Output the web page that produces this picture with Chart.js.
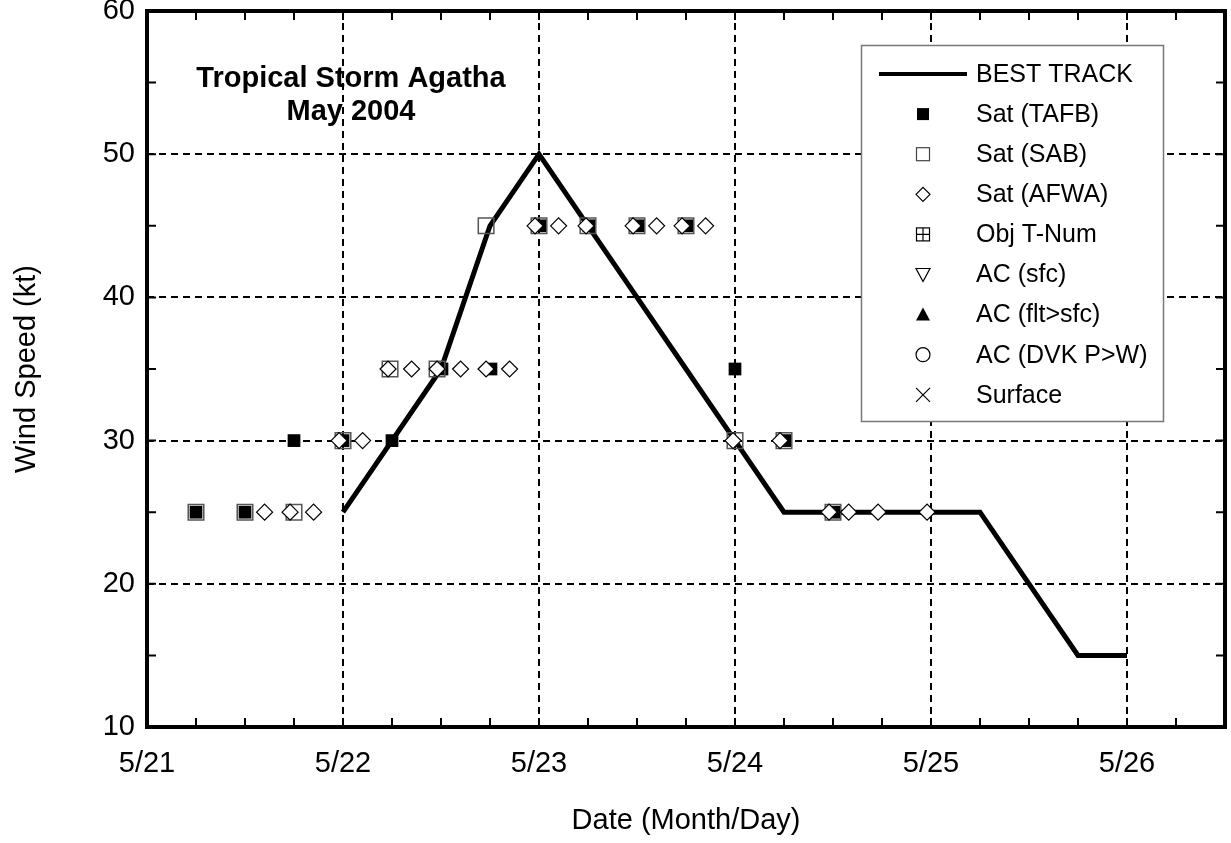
<!DOCTYPE html>
<html>
<head>
<meta charset="utf-8">
<script src="https://cdn.jsdelivr.net/npm/chart.js@4.4.1/dist/chart.umd.min.js"></script>
<style>
  html, body { margin: 0; padding: 0; background: #ffffff; }
  #wrap { width: 1231px; height: 843px; }
</style>
</head>
<body>
<div id="wrap"><canvas id="c" width="1231" height="843"></canvas></div>
<script>
// ---- data (day of May 2004, wind speed in kt) ----
const bestTrackDays = [22, 22.25, 22.5, 22.75, 23, 23.25, 23.5, 23.75, 24, 24.25, 24.5, 24.75, 25, 25.25, 25.5, 25.75, 26];
const bestTrackKt   = [25, 30, 35, 45, 50, 45, 40, 35, 30, 25, 25, 25, 25, 25, 20, 15, 15];

const tafbDays = [21.25, 21.5, 21.75, 22.0, 22.25, 22.505, 22.755, 23.005, 23.255, 23.505, 23.755, 24.0, 24.255, 24.505];
const tafbKt   = [25, 25, 30, 30, 30, 35, 35, 45, 45, 45, 45, 35, 30, 25];

const sabDays = [21.25, 21.5, 21.75, 22.0, 22.24, 22.48, 22.73, 23.0, 23.25, 23.5, 23.75, 24.0, 24.25, 24.5];
const sabKt   = [25, 25, 25, 30, 35, 35, 45, 45, 45, 45, 45, 30, 30, 25];

const afwaDays = [21.60, 21.73, 21.85, 21.98, 22.10, 22.23, 22.35, 22.48, 22.60, 22.73, 22.85, 22.98, 23.10, 23.24, 23.48, 23.60, 23.73, 23.85, 23.99, 24.23, 24.48, 24.58, 24.73, 24.98];
const afwaKt   = [25, 25, 25, 30, 30, 35, 35, 35, 35, 35, 35, 45, 45, 45, 45, 45, 45, 45, 30, 30, 25, 25, 25, 25];

const xTickValues = [21, 22, 23, 24, 25, 26];
const xTickLabels = ['5/21', '5/22', '5/23', '5/24', '5/25', '5/26'];
const yTickValues = [10, 20, 30, 40, 50, 60];

const legendLabels = ['BEST TRACK', 'Sat (TAFB)', 'Sat (SAB)', 'Sat (AFWA)', 'Obj T-Num', 'AC (sfc)', 'AC (flt>sfc)', 'AC (DVK P>W)', 'Surface'];
const titleLines = ['Tropical Storm Agatha', 'May 2004'];

const FONT = "'Liberation Sans', Arial, Helvetica, sans-serif";

function pts(xs, ys) { return xs.map((x, i) => ({ x: x, y: ys[i] })); }

const framePlugin = {
  id: 'framePlugin',
  afterDatasetsDraw(chart) {
    const ctx = chart.ctx;
    const a = chart.chartArea;
    const xs = chart.scales.x, ys = chart.scales.y;
    ctx.save();
    // inner title
    ctx.fillStyle = '#000';
    ctx.font = "bold 29px " + FONT;
    ctx.textAlign = 'center';
    ctx.textBaseline = 'alphabetic';
    ctx.fillText(titleLines[0], 351, 87);
    ctx.fillText(titleLines[1], 351, 120);

    // legend box
    const L = 861, T = 45, R = 1163, B = 421;
    ctx.fillStyle = '#fff';
    ctx.fillRect(L, T, R - L, B - T);
    ctx.strokeStyle = '#777';
    ctx.lineWidth = 1.5;
    ctx.strokeRect(L + 0.5, T + 0.5, R - L, B - T);
    const mx = 923, tx = 976;
    ctx.font = "25px " + FONT;
    ctx.textAlign = 'left';
    ctx.textBaseline = 'middle';
    legendLabels.forEach((lab, i) => {
      const cy = 74 + i * 40.1;
      ctx.fillStyle = '#000';
      ctx.fillText(lab, tx, cy + 1);
      ctx.strokeStyle = '#000';
      ctx.lineWidth = 1.2;
      ctx.beginPath();
      switch (i) {
        case 0:
          ctx.lineWidth = 4;
          ctx.moveTo(879, cy); ctx.lineTo(967, cy); ctx.stroke();
          break;
        case 1:
          ctx.fillRect(mx - 6, cy - 6, 12, 12);
          break;
        case 2:
          ctx.strokeStyle = '#444';
          ctx.strokeRect(mx - 6.5, cy - 6.5, 13, 13);
          break;
        case 3:
          ctx.moveTo(mx - 7, cy); ctx.lineTo(mx, cy - 7); ctx.lineTo(mx + 7, cy); ctx.lineTo(mx, cy + 7); ctx.closePath(); ctx.stroke();
          break;
        case 4:
          ctx.strokeRect(mx - 6.5, cy - 6.5, 13, 13);
          ctx.moveTo(mx, cy - 6.5); ctx.lineTo(mx, cy + 6.5);
          ctx.moveTo(mx - 6.5, cy); ctx.lineTo(mx + 6.5, cy); ctx.stroke();
          break;
        case 5:
          ctx.moveTo(mx - 7, cy - 6); ctx.lineTo(mx + 7, cy - 6); ctx.lineTo(mx, cy + 7); ctx.closePath(); ctx.stroke();
          break;
        case 6:
          ctx.moveTo(mx - 7, cy + 6); ctx.lineTo(mx + 7, cy + 6); ctx.lineTo(mx, cy - 7); ctx.closePath(); ctx.fill();
          break;
        case 7:
          ctx.arc(mx, cy, 7, 0, Math.PI * 2); ctx.stroke();
          break;
        case 8:
          ctx.moveTo(mx - 7, cy - 7); ctx.lineTo(mx + 7, cy + 7);
          ctx.moveTo(mx + 7, cy - 7); ctx.lineTo(mx - 7, cy + 7); ctx.stroke();
          break;
      }
    });

    // inward tick marks
    ctx.strokeStyle = '#000';
    ctx.lineWidth = 2;
    ctx.beginPath();
    for (let d = 21.25; d < 26.5; d += 0.25) {
      const px = xs.getPixelForValue(d);
      ctx.moveTo(px, a.bottom); ctx.lineTo(px, a.bottom - 9);
      ctx.moveTo(px, a.top); ctx.lineTo(px, a.top + 9);
    }
    for (let v = 15; v < 60; v += 5) {
      const py = ys.getPixelForValue(v);
      ctx.moveTo(a.left, py); ctx.lineTo(a.left + 9, py);
      ctx.moveTo(a.right, py); ctx.lineTo(a.right - 9, py);
    }
    ctx.stroke();

    // frame
    ctx.lineWidth = 4;
    ctx.strokeRect(a.left, a.top, a.right - a.left, a.bottom - a.top);
    ctx.restore();
  }
};

const chart = new Chart(document.getElementById('c'), {
  type: 'scatter',
  data: {
    datasets: [
      {
        label: 'Sat (AFWA)',
        data: pts(afwaDays, afwaKt),
        pointStyle: 'rectRot',
        pointRadius: 8,
        backgroundColor: '#ffffff',
        borderColor: '#000000',
        borderWidth: 1.2
      },
      {
        label: 'Sat (SAB)',
        data: pts(sabDays, sabKt),
        pointStyle: 'rect',
        pointRadius: 11,
        backgroundColor: 'rgba(0,0,0,0)',
        borderColor: '#555555',
        borderWidth: 1.5
      },
      {
        label: 'Sat (TAFB)',
        data: pts(tafbDays, tafbKt),
        pointStyle: 'rect',
        pointRadius: 9,
        backgroundColor: '#000000',
        borderColor: '#000000',
        borderWidth: 0
      },
      {
        label: 'BEST TRACK',
        data: pts(bestTrackDays, bestTrackKt),
        showLine: true,
        pointRadius: 0,
        borderColor: '#000000',
        borderWidth: 5,
        borderJoinStyle: 'miter',
        tension: 0,
        fill: false
      }
    ]
  },
  options: {
    responsive: false,
    animation: false,
    events: [],
    layout: { autoPadding: false, padding: { top: 11, right: 6, left: 0, bottom: 0 } },
    plugins: {
      legend: { display: false },
      title: { display: false },
      tooltip: { enabled: false }
    },
    scales: {
      x: {
        type: 'linear',
        min: 21,
        max: 26.5,
        afterBuildTicks: (s) => { s.ticks = xTickValues.map(v => ({ value: v })); },
        afterFit: (s) => { s.height = 116; s.paddingLeft = 0; s.paddingRight = 0; },
        ticks: {
          callback: (v) => { const i = xTickValues.indexOf(v); return i >= 0 ? xTickLabels[i] : ''; },
          color: '#000',
          font: { family: FONT, size: 29 },
          padding: 20,
          maxRotation: 0,
          autoSkip: false
        },
        grid: {
          color: (c) => (c.tick && c.tick.value === 21) ? 'rgba(0,0,0,0)' : '#000',
          lineWidth: 2,
          drawTicks: false
        },
        border: { display: false, dash: [7, 5] },
        title: {
          display: true,
          text: 'Date (Month/Day)',
          color: '#000',
          font: { family: FONT, size: 29 },
          padding: { top: 0, bottom: 5 }
        }
      },
      y: {
        type: 'linear',
        min: 10,
        max: 60,
        afterBuildTicks: (s) => { s.ticks = yTickValues.map(v => ({ value: v })); },
        afterFit: (s) => { s.width = 147; s.paddingTop = 0; s.paddingBottom = 0; },
        ticks: {
          color: '#000',
          font: { family: FONT, size: 29, lineHeight: 0.7 },
          padding: 12,
          autoSkip: false
        },
        grid: {
          color: (c) => (c.tick && (c.tick.value === 10 || c.tick.value === 60)) ? 'rgba(0,0,0,0)' : '#000',
          lineWidth: 2,
          drawTicks: false
        },
        border: { display: false, dash: [7, 5] },
        title: {
          display: true,
          text: 'Wind Speed (kt)',
          color: '#000',
          font: { family: FONT, size: 29 },
          padding: { top: 10, bottom: 0 }
        }
      }
    }
  },
  plugins: [framePlugin]
});
</script>
</body>
</html>
